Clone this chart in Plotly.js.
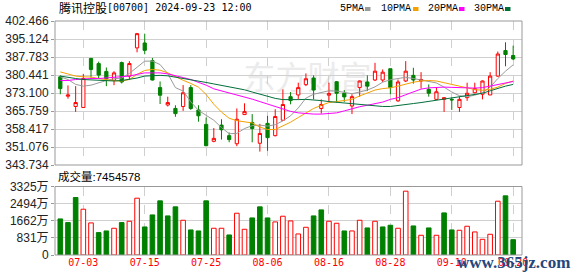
<!DOCTYPE html>
<html>
<head>
<meta charset="utf-8">
<script src="https://cdn.plot.ly/plotly-3.0.1.min.js"></script>
<style>html,body{margin:0;padding:0;background:#fff;}#chart{width:578px;height:276px;}</style>
</head>
<body>
<div id="chart"></div>
<script>
// ---- data ----
const dates = ['06-27','06-28','07-02','07-03','07-04','07-05','07-08','07-09','07-10','07-11','07-12','07-15','07-16','07-17','07-18','07-19','07-22','07-23','07-24','07-25','07-26','07-29','07-30','07-31','08-01','08-02','08-05','08-06','08-07','08-08','08-09','08-12','08-13','08-14','08-15','08-16','08-19','08-20','08-21','08-22','08-23','08-26','08-27','08-28','08-29','08-30','09-02','09-03','09-04','09-05','09-09','09-10','09-11','09-12','09-13','09-16','09-17','09-19','09-20','09-23'];
const openP  = [379.7,371.8,367.6,367.2,387.2,385.1,381.9,378.3,385.5,380.0,391.5,393.5,386.3,375.3,368.2,366.8,367.6,375.3,366.2,360.3,353.4,360.0,355.7,352.4,364.3,361.1,352.6,360.7,355.7,362.0,371.6,372.3,376.5,379.2,366.8,372.2,377.7,373.0,367.8,375.3,377.6,378.4,378.4,383.0,369.9,378.0,380.3,378.0,374.6,370.5,370.5,370.5,367.2,371.2,373.2,372.6,372.3,380.0,390.4,388.4];
const highP  = [380.3,376.2,375.9,380.9,387.4,385.9,383.5,382.0,385.9,386.1,397.6,397.3,387.4,377.8,371.6,368.1,376.3,376.3,368.1,363.1,358.8,362.4,357.0,366.8,368.9,364.5,360.5,363.8,366.5,374.6,373.5,377.3,381.1,380.3,370.5,377.3,378.0,374.3,372.6,378.2,380.3,385.4,382.7,383.0,378.6,386.1,383.4,381.6,376.6,375.3,371.2,371.2,371.6,377.3,377.3,378.2,381.6,390.0,393.8,392.4];
const lowP   = [372.6,370.8,365.4,367.2,379.3,379.0,375.9,376.3,377.0,378.7,389.7,388.9,378.2,368.6,367.6,363.4,365.8,366.2,361.4,351.4,353.0,354.1,353.0,351.4,364.2,353.0,349.2,349.5,355.4,361.8,368.5,370.5,375.9,370.5,364.7,369.5,369.2,369.5,364.5,371.6,373.9,378.0,377.6,372.6,369.5,377.6,376.9,374.9,371.6,370.3,365.4,366.2,365.4,369.9,373.0,370.5,372.3,379.7,384.0,386.5];
const closeP = [374.9,372.3,369.2,379.0,382.7,380.4,378.9,381.3,377.6,385.1,397.3,390.5,378.4,372.2,369.2,364.7,373.2,366.8,363.8,351.6,354.6,358.1,354.1,362.4,365.5,358.6,356.6,354.9,363.5,368.4,370.0,375.3,378.9,374.3,368.4,372.9,373.0,371.5,371.6,378.0,375.9,382.0,381.6,375.3,377.6,382.0,378.4,378.6,373.0,373.6,371.2,370.3,370.5,373.0,374.9,378.0,380.0,389.0,388.8,387.0];
const ma5  = [379.7,378.6,376.6,375.9,376.3,377.3,378.2,378.9,379.2,381.1,383.8,386.1,386.1,384.7,381.0,375.3,373.9,369.5,366.0,364.0,362.0,359.0,356.5,356.6,358.6,359.8,360.0,359.6,360.2,361.7,363.8,367.0,371.0,372.6,373.4,374.0,373.9,373.3,372.8,373.5,374.3,375.6,377.5,378.5,378.9,379.5,379.0,378.5,378.0,377.2,375.5,373.5,372.0,371.6,372.2,373.3,375.5,379.0,382.0,384.6];
const ma10 = [381.7,380.9,380.0,379.7,379.6,379.0,378.4,378.1,378.0,378.6,380.7,382.3,382.7,382.4,381.3,379.7,378.3,377.0,375.5,372.5,368.5,365.3,362.8,361.8,361.5,360.9,359.2,358.2,358.2,359.7,361.2,363.1,365.1,366.8,368.1,369.2,369.6,369.9,370.5,371.9,373.2,374.3,374.9,375.2,375.9,376.8,377.5,378.0,378.2,378.0,377.3,376.6,375.8,375.0,374.5,374.2,374.6,375.5,377.0,378.0];
const ma20 = [378.2,378.2,378.6,378.9,379.0,379.0,379.2,379.3,379.6,380.0,380.7,381.3,381.3,381.3,380.9,380.3,379.4,378.6,377.6,376.3,374.8,374.0,373.2,372.5,371.6,370.6,369.6,368.6,367.6,366.7,365.6,365.0,364.6,364.5,364.5,364.6,365.0,365.8,366.7,367.5,368.1,368.7,369.4,370.5,371.2,372.4,373.6,374.7,375.2,375.4,375.5,375.4,375.3,375.3,375.1,375.3,375.9,376.6,377.3,377.8];
const ma30 = [380.0,379.4,379.0,378.6,378.4,378.2,378.0,378.0,378.2,378.6,379.2,380.0,380.2,380.3,380.1,379.6,379.0,378.5,378.1,377.4,376.8,376.2,375.7,375.2,374.4,373.5,372.6,371.6,370.9,370.4,370.3,370.4,370.5,370.4,370.0,369.6,369.3,369.0,368.8,368.5,368.1,367.8,367.6,367.6,367.9,368.4,368.8,369.2,369.7,370.1,370.5,370.9,371.5,371.9,372.4,373.0,374.0,375.0,375.9,376.6];
// volume in 万股; direction: 1 = up (red hollow), 0 = down (green)
const volume = [1752,1573,2790,2222,1557,1087,1168,1298,1573,1638,2757,1362,1946,2628,1898,2336,1687,1217,1168,2628,1298,1298,973,2028,1249,1800,2336,1800,1606,1882,1654,1022,1346,1898,2190,1638,1541,1168,1168,1687,1314,1638,1362,1444,1298,3098,1411,957,1314,957,2044,1217,1200,1395,1119,762,1006,2611,2871,745];
const volumeUp = [0,0,0,1,1,0,0,1,0,1,1,0,0,0,0,0,1,0,0,0,1,1,0,1,1,0,0,0,1,1,1,1,1,0,0,1,1,0,1,1,0,1,0,0,1,1,0,1,0,1,0,0,1,1,1,1,1,1,0,0];
const priceTicks = [343.734,351.076,358.417,365.759,373.100,380.441,387.783,395.124,402.466];
const priceTickText = ['343.734','351.076','358.417','365.759','373.100','380.441','387.783','395.124','402.466'];
const volTicks = [0,831.25,1662.5,2493.75,3325];
const volTickText = ['0','831万','1662万','2494万','3325万'];
const xTickPos = [3,11,19,27,35,43,51,59];
const xTickText = ['07-03','07-15','07-25','08-06','08-16','08-28','09-10','09-20'];
const titleName = '腾讯控股';
const titleCode = '[00700] 2024-09-23 12:00';
const volLabel = '成交量:7454578';
const maNames = ['5PMA','10PMA','20PMA','30PMA'];

// ---- styles ----
const RED = '#ff0000', GREEN = '#008000';
const maColors = ['#9a9a9a','#f5a000','#ff00ff','#006f3a'];
const xs = dates.map((d, i) => i);

const L = 55, R = 522, T = 21, B = 255;
const px = x => (x - L) / (R - L);
const py = y => (B - y) / (B - T);
const priceDom = [py(165), 1];
const volDom = [0, py(186.5)];

const traces = [];
traces.push({
  type: 'candlestick', x: xs, open: openP, high: highP, low: lowP, close: closeP,
  xaxis: 'x', yaxis: 'y', whiskerwidth: 0, hoverinfo: 'skip',
  increasing: {line: {color: RED, width: 1}, fillcolor: '#ffffff'},
  decreasing: {line: {color: GREEN, width: 1}, fillcolor: GREEN}
});
[ma5, ma10, ma20, ma30].forEach((arr, k) => {
  traces.push({type: 'scatter', mode: 'lines', x: xs, y: arr, xaxis: 'x', yaxis: 'y',
    line: {color: maColors[k], width: 1}, hoverinfo: 'skip'});
});
traces.push({
  type: 'bar', x: xs, y: volume, xaxis: 'x', yaxis: 'y2', width: 0.6, hoverinfo: 'skip',
  marker: {color: volumeUp.map(u => u ? '#ffffff' : GREEN),
           line: {color: volumeUp.map(u => u ? RED : GREEN), width: 1}}
});

const shapes = [
  {type: 'rect', xref: 'paper', yref: 'paper', x0: 0, x1: 1, y0: priceDom[0], y1: priceDom[1], line: {color: '#999', width: 1}},
  {type: 'rect', xref: 'paper', yref: 'paper', x0: 0, x1: 1, y0: volDom[0], y1: volDom[1], line: {color: '#999', width: 1}},
  {type: 'rect', xref: 'paper', yref: 'paper', x0: px(230), x1: px(385), y0: py(100), y1: py(60), line: {width: 0}, fillcolor: 'rgba(0,0,0,0)', layer: 'between',
   label: {text: '东方财富', font: {family: 'Noto Sans CJK SC', size: 32, color: '#ebebeb'}, textposition: 'middle center'}}
];
const legX = [338, 379, 425.5, 471.5];
const sqX = [365, 413, 459, 505];
const annotations = [
  {text: titleName, xref: 'paper', yref: 'paper', x: px(57), y: py(8), xanchor: 'left', yanchor: 'middle', showarrow: false,
   font: {family: 'Noto Sans CJK SC', size: 12, color: '#000'}},
  {text: titleCode, xref: 'paper', yref: 'paper', x: px(105), y: py(8), xanchor: 'left', yanchor: 'middle', showarrow: false,
   font: {family: 'DejaVu Sans Mono', size: 10, color: '#000'}},
  {text: volLabel, xref: 'paper', yref: 'paper', x: px(56), y: py(176.5), xanchor: 'left', yanchor: 'middle', showarrow: false,
   font: {family: 'Liberation Sans, Noto Sans CJK SC', size: 11.5, color: '#000'}},
  {text: 'www.365jz.com', xref: 'paper', yref: 'paper', x: px(455), y: py(262), xanchor: 'left', yanchor: 'middle', showarrow: false,
   font: {family: 'Liberation Serif', size: 17, color: '#24477c', weight: 'bold'}}
];
maNames.forEach((n, k) => {
  annotations.push({text: n, xref: 'paper', yref: 'paper', x: px(legX[k]), y: py(9), xanchor: 'left', yanchor: 'middle', showarrow: false,
    font: {family: 'Liberation Mono', size: 10, color: '#000'}});
  shapes.push({type: 'rect', xref: 'paper', yref: 'paper', x0: px(sqX[k]), x1: px(sqX[k] + 5.5), y0: py(11), y1: py(7), line: {width: 0}, fillcolor: maColors[k]});
});

const layout = {
  width: 578, height: 276, margin: {l: L, r: 578 - R, t: T, b: 276 - B, pad: 0},
  paper_bgcolor: '#fff', plot_bgcolor: '#fff', showlegend: false, boxgap: 0.4, bargap: 0.4,
  font: {family: 'Liberation Sans, Noto Sans CJK SC', size: 12, color: '#222'},
  xaxis: {range: [-0.69, 60.15], anchor: 'y2', tickmode: 'array', tickvals: xTickPos, ticktext: xTickText,
    tickfont: {family: 'DejaVu Sans Mono', size: 10, color: RED}, showgrid: true, gridcolor: '#cfcfcf', griddash: 'dash',
    gridwidth: 1, zeroline: false, showline: false, ticks: '', rangeslider: {visible: false}, fixedrange: true},
  yaxis: {domain: priceDom, range: [343.734, 402.466], tickmode: 'array', tickvals: priceTicks, ticktext: priceTickText,
    showgrid: true, gridcolor: '#d0d0d0', zeroline: false, showline: false, ticks: 'outside', ticklen: 3, tickcolor: '#999',
    tickfont: {size: 12, color: '#222'}, fixedrange: true},
  yaxis2: {domain: volDom, range: [0, 3325], tickmode: 'array', tickvals: volTicks, ticktext: volTickText,
    showgrid: true, gridcolor: '#d0d0d0', zeroline: false, showline: false, ticks: 'outside', ticklen: 3, tickcolor: '#999',
    tickfont: {size: 12, color: '#222'}, fixedrange: true},
  shapes: shapes, annotations: annotations
};
Plotly.newPlot('chart', traces, layout, {staticPlot: true, displayModeBar: false});
</script>
</body>
</html>
